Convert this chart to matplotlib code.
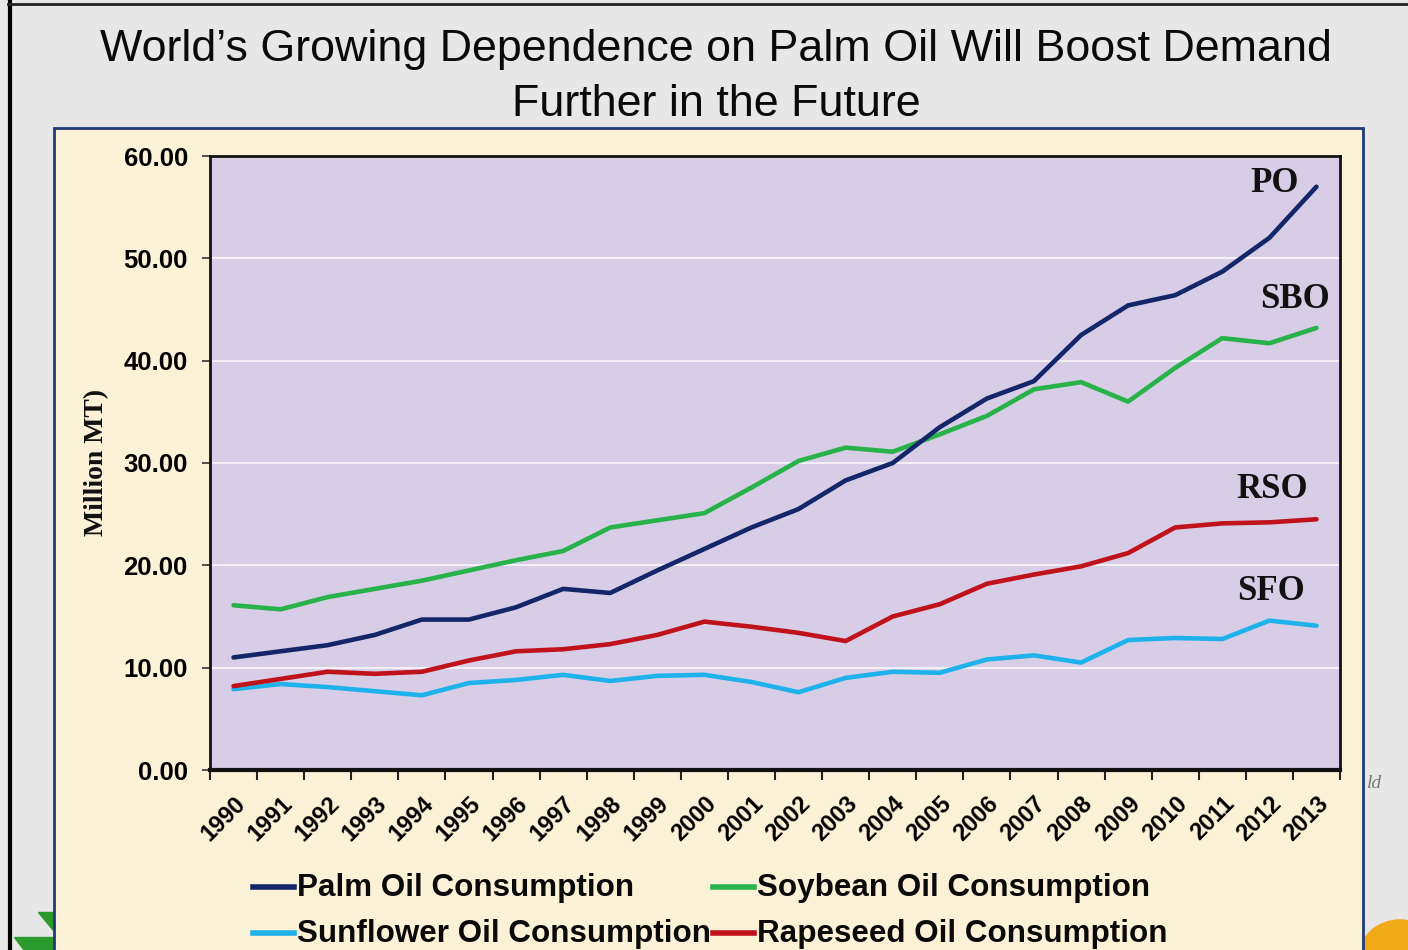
import matplotlib
matplotlib.use("Agg")
import matplotlib.pyplot as plt
from matplotlib.patches import Rectangle, Polygon, Ellipse
from matplotlib.lines import Line2D

years = [str(y) for y in range(1990, 2014)]
palm = [11.0, 11.6, 12.2, 13.2, 14.7, 14.7, 15.9, 17.7, 17.3, 19.5, 21.6, 23.7,
        25.5, 28.3, 30.0, 33.5, 36.3, 38.0, 42.5, 45.4, 46.4, 48.7, 52.0, 57.0]
soybean = [16.1, 15.7, 16.9, 17.7, 18.5, 19.5, 20.5, 21.4, 23.7, 24.4, 25.1, 27.6,
           30.2, 31.5, 31.1, 32.8, 34.6, 37.2, 37.9, 36.0, 39.3, 42.2, 41.7, 43.2]
sunflower = [7.9, 8.4, 8.1, 7.7, 7.3, 8.5, 8.8, 9.3, 8.7, 9.2, 9.3, 8.6,
             7.6, 9.0, 9.6, 9.5, 10.8, 11.2, 10.5, 12.7, 12.9, 12.8, 14.6, 14.1]
rapeseed = [8.2, 8.9, 9.6, 9.4, 9.6, 10.7, 11.6, 11.8, 12.3, 13.2, 14.5, 14.0,
            13.4, 12.6, 15.0, 16.2, 18.2, 19.1, 19.9, 21.2, 23.7, 24.1, 24.2, 24.5]
yticks = [0, 10, 20, 30, 40, 50, 60]
series_names = ["Palm Oil Consumption", "Soybean Oil Consumption",
                "Sunflower Oil Consumption", "Rapeseed Oil Consumption"]
short_names = ["PO", "SBO", "SFO", "RSO"]

c_palm = "#14266a"
c_soy = "#27b24a"
c_sun = "#1fb2ea"
c_rape = "#c0121b"
colors = [c_palm, c_soy, c_sun, c_rape]

W, H = 1408, 950
fig = plt.figure(figsize=(W / 100, H / 100), dpi=100)
fig.patch.set_facecolor("#e7e7e7")

def fx(px):
    return px / W

def fy(py):
    return 1 - py / H

# slide frame
fig.add_artist(Line2D([fx(10), fx(10)], [0, 1], color="black", lw=3, transform=fig.transFigure, zorder=-2))
fig.add_artist(Line2D([fx(8), 1], [fy(4), fy(4)], color="#222222", lw=2, transform=fig.transFigure, zorder=-2))

# decorations
fig.add_artist(Polygon([[fx(38), fy(912)], [fx(53), fy(912)], [fx(53), fy(930)]],
                       closed=True, color="#2a9a2e", transform=fig.transFigure, zorder=-2))
fig.add_artist(Polygon([[fx(14), fy(937)], [fx(53), fy(937)], [fx(53), fy(950)], [fx(24), fy(950)]],
                       closed=True, color="#2a9a2e", transform=fig.transFigure, zorder=-2))
fig.add_artist(Ellipse((fx(1400), fy(955)), fx(80), 70 / H, color="#f2a918",
                       transform=fig.transFigure, zorder=-2))
fig.text(fx(1367), fy(784), "ld", fontsize=14, style="italic", color="#777777",
         family="Liberation Serif", va="center", ha="left")

# cream panel
fig.add_artist(Rectangle((fx(54), fy(955)), fx(1363 - 54), (955 - 128) / H,
                         facecolor="#fbf1d7", edgecolor="#1f3b78", lw=2,
                         transform=fig.transFigure, zorder=-1))

# title
fig.text(fx(716), fy(49), "World\u2019s Growing Dependence on Palm Oil Will Boost Demand",
         fontsize=32.3, family="Liberation Sans", ha="center", va="center", color="#0a0a0a")
fig.text(fx(716), fy(105), "Further in the Future",
         fontsize=32.3, family="Liberation Sans", ha="center", va="center", color="#0a0a0a")

ax = fig.add_axes([fx(210), fy(770), fx(1340 - 210), (770 - 156) / H])
ax.set_zorder(2)
ax.set_facecolor("#d8cde6")
x = list(range(len(years)))
lw = 3.3
ax.plot(x, palm, color=c_palm, lw=lw, solid_capstyle="round", zorder=5)
ax.plot(x, soybean, color=c_soy, lw=lw, solid_capstyle="round", zorder=4)
ax.plot(x, sunflower, color=c_sun, lw=lw, solid_capstyle="round", zorder=3)
ax.plot(x, rapeseed, color=c_rape, lw=lw, solid_capstyle="round", zorder=4)

ax.set_xlim(-0.5, len(years) - 0.5)
ax.set_ylim(0, 60)
ax.set_yticks(yticks)
ax.set_yticklabels([f"{v:.2f}" for v in yticks], fontsize=18.5, fontweight="bold",
                   family="Liberation Sans")
ax.yaxis.grid(True, color="#f4f0f8", lw=1.5)
ax.set_axisbelow(True)
ax.tick_params(axis="y", length=6, width=1.2, pad=10, color="#333333")

ax.set_xticks(x)
ax.set_xticklabels(years, rotation=45, ha="right", rotation_mode="anchor",
                   fontsize=17, fontweight="bold", family="Liberation Sans")
ax.tick_params(axis="x", which="major", length=0, pad=16)
ax.set_xticks([i - 0.5 for i in range(len(years) + 1)], minor=True)
ax.tick_params(axis="x", which="minor", length=7, width=1.5, color="#222222")

for s in ["left", "top", "right"]:
    ax.spines[s].set_linewidth(2)
    ax.spines[s].set_color("#111111")
ax.spines["bottom"].set_linewidth(3)
ax.spines["bottom"].set_color("#111111")

# series labels
lab_kw = dict(fontsize=25, fontweight="bold", family="Liberation Serif", color="#111111",
              ha="center", va="center")
fig.text(fx(1275), fy(183), short_names[0], **lab_kw)
fig.text(fx(1295), fy(300), short_names[1], **lab_kw)
fig.text(fx(1271), fy(592), short_names[2], **lab_kw)
fig.text(fx(1272), fy(489), short_names[3], **lab_kw)

fig.text(fx(97), fy(462), "Million MT)", rotation=90, fontsize=20, fontweight="bold",
         family="Liberation Serif", ha="center", va="center", color="#111111")

# legend (manual layout, 2 x 2)
leg_pos = [(253, 887), (713, 887), (253, 933), (713, 933)]
for (px, py), name, c in zip(leg_pos, series_names, colors):
    fig.add_artist(Line2D([fx(px), fx(px + 41)], [fy(py), fy(py)], color=c, lw=4,
                          transform=fig.transFigure))
    fig.text(fx(px + 44), fy(py + 1), name, fontsize=22.6, fontweight="bold",
             family="Liberation Sans", ha="left", va="center", color="#0a0a0a")

fig.savefig("out.png", dpi=100, facecolor=fig.get_facecolor())
